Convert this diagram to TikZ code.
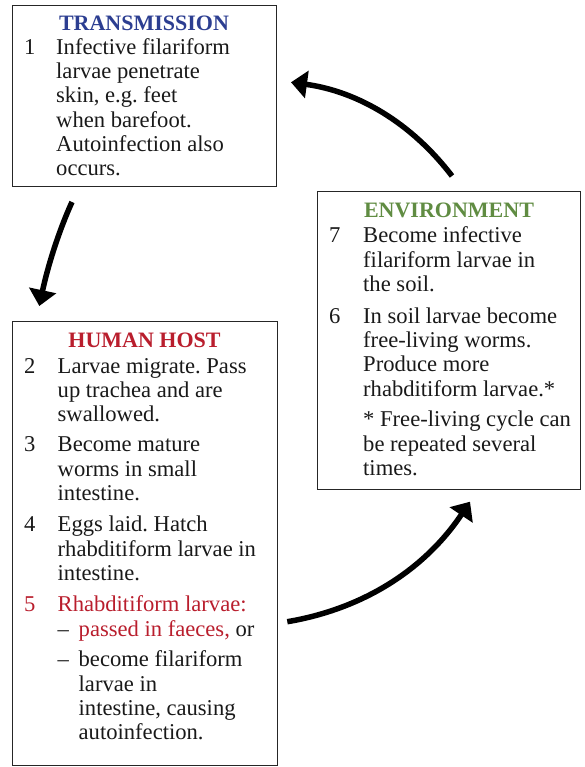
\documentclass[tikz,border=0pt]{standalone}
\usepackage{fontspec}
\setmainfont{Liberation Serif}
\usetikzlibrary{arrows.meta}
\definecolor{tblue}{RGB}{44,62,145}
\definecolor{tgreen}{RGB}{96,140,66}
\definecolor{tred}{RGB}{185,30,45}
\newcommand{\itm}[3]{\makebox[#1][l]{#2}\parbox[t]{240pt}{\leavevmode\raggedright #3}}
\begin{document}
\frenchspacing
\begin{tikzpicture}[x=1pt,y=-1pt,
  box/.style={draw=black!85, line width=1.1pt, inner sep=0pt, anchor=north west},
  title/.style={font=\fontsize{22}{24}\selectfont\bfseries, anchor=base, inner sep=0pt},
  txt/.style={font=\fontsize{22.6}{24.3}\selectfont\frenchspacing, anchor=base west, inner sep=0pt, text=black!90},
  flow/.style={line width=5.5pt, -{Triangle[length=16pt,width=27pt]}}]
\useasboundingbox (0,0) rectangle (584,767);
% boxes
\node[box, minimum width=264pt, minimum height=181pt] (trans) at (12,5) {};
\node[box, minimum width=263pt, minimum height=298pt] (env) at (317,191) {};
\node[box, minimum width=265pt, minimum height=444pt] (host) at (12,321) {};
% transmission
\node[title, text=tblue] (ttitle) at (144,30.7) {TRANSMISSION};
\node[txt] (i1) at (24,54.3) {\itm{32pt}{1}{Infective filariform\\larvae penetrate\\skin, e.g. feet\\when barefoot.\\Autoinfection also\\occurs.}};
% environment
\node[title, text=tgreen] (etitle) at (449,217.3) {ENVIRONMENT};
\node[txt] (i7) at (329,242.7) {\itm{34pt}{7}{Become infective\\filariform larvae in\\the soil.}};
\node[txt] (i6) at (329,323.3) {\itm{34pt}{6}{In soil larvae become\\free-living worms.\\Produce more\\rhabditiform larvae.*}};
\node[txt] (note) at (363,426.7) {\parbox[t]{215pt}{\leavevmode\raggedright * Free-living cycle can\\be repeated several\\times.}};
% human host
\node[title, text=tred] (htitle) at (144.5,347.3) {HUMAN HOST};
\node[txt] (i2) at (24,373.3) {\itm{33.5pt}{2}{Larvae migrate. Pass\\up trachea and are\\swallowed.}};
\node[txt] (i3) at (24,451.7) {\itm{33.5pt}{3}{Become mature\\worms in small\\intestine.}};
\node[txt] (i4) at (24,531.7) {\itm{33.5pt}{4}{Eggs laid. Hatch\\rhabditiform larvae in\\intestine.}};
\node[txt, text=tred] (i5) at (24,611.7) {\itm{33.5pt}{5}{Rhabditiform larvae:}};
\node[txt] (i5a) at (57.5,636.7) {\itm{21pt}{--}{\textcolor{tred}{passed in faeces,} or}};
\node[txt] (i5b) at (57.5,666.7) {\itm{21pt}{--}{become filariform\\larvae in\\intestine, causing\\autoinfection.}};
% arrow end points
\coordinate (a1s) at (452,176);
\coordinate (a1e) at (291,82.3);
\coordinate (a2s) at (72,202);
\coordinate (a2e) at (39.3,306);
\coordinate (a3s) at (287.3,621.7);
\coordinate (a3e) at (470,501.7);
\draw[flow] (a1s) .. controls (411.3,122.7) and (357.6,91.4) .. (a1e);
\draw[flow] (a2s) .. controls (58.8,231.1) and (47.9,265.7) .. (a2e);
\draw[flow] (a3s) .. controls (364.4,608.7) and (425.3,568.6) .. (a3e);
\end{tikzpicture}
\end{document}
